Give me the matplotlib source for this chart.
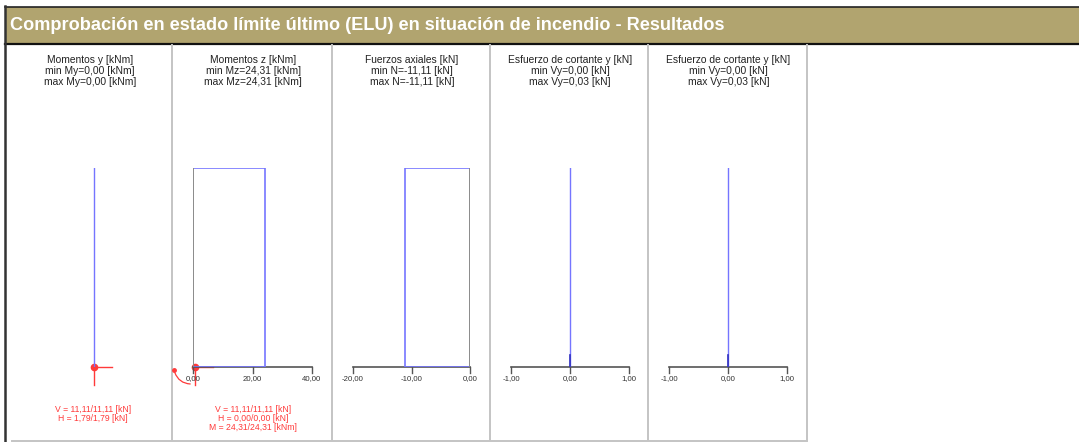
import numpy as np
import matplotlib.pyplot as plt
from matplotlib.patches import Rectangle, FancyArrowPatch

plt.rcParams['font.family'] = ['Liberation Sans', 'DejaVu Sans']

W, H = 1079, 442

# Posiciones a lo largo de la barra (0 = apoyo, 1 = extremo)
pos = [0.0, 1.0]

# Diagramas de esfuerzos
my = [0.0, 0.0]
mz = [24.31, 24.31]
n_ax = [-11.11, -11.11]
vy = [0.03, 0.0]
vz = [0.03, 0.0]

titulos = [
    ["Momentos y [kNm]", "min My=0,00 [kNm]", "max My=0,00 [kNm]"],
    ["Momentos z [kNm]", "min Mz=24,31 [kNm]", "max Mz=24,31 [kNm]"],
    ["Fuerzos axiales [kN]", "min N=-11,11 [kN]", "max N=-11,11 [kN]"],
    ["Esfuerzo de cortante y [kN]", "min Vy=0,00 [kN]", "max Vy=0,03 [kN]"],
    ["Esfuerzo de cortante y [kN]", "min Vy=0,00 [kN]", "max Vy=0,03 [kN]"],
]

ticks_mz = [0.0, 20.0, 40.0]
ticks_n = [-20.0, -10.0, 0.0]
ticks_v = [-1.0, 0.0, 1.0]

reacciones_1 = ["V = 11,11/11,11 [kN]", "H = 1,79/1,79 [kN]"]
reacciones_2 = ["V = 11,11/11,11 [kN]", "H = 0,00/0,00 [kN]", "M = 24,31/24,31 [kNm]"]

AZUL = '#7575ff'
ROJO = '#ff3a3a'
GRIS = '#555555'

fig = plt.figure(figsize=(W / 100, H / 100), dpi=100)

# capa de fondo en coordenadas de pixel
base = fig.add_axes([0, 0, 1, 1])
base.set_xlim(0, W)
base.set_ylim(H, 0)
base.axis('off')

# cabecera
base.add_patch(Rectangle((5, 7), W - 5, 37, facecolor='#b1a46f', edgecolor='none'))
base.plot([5, W], [6.5, 6.5], color='#222222', lw=1.2)
base.plot([5, W], [44, 44], color='#111111', lw=1.6)
base.plot([5, 5], [6, H], color='#333333', lw=1.8)
base.text(10, 25, "Comprobación en estado límite último (ELU) en situación de incendio - Resultados",
          color='white', fontsize=13.1, fontweight='bold', va='center', ha='left')

# marcos de los paneles
sep = [6, 172, 332, 490, 648, 807]
for x in sep[1:]:
    base.plot([x, x], [45, 440], color='#c4c4c4', lw=1.4)
base.plot([12, 807], [441, 441], color='#c4c4c4', lw=1.4)

for i, lineas in enumerate(titulos):
    cx = (sep[i] + sep[i + 1]) / 2 + 1
    for k, t in enumerate(lineas):
        base.text(cx, 60 + k * 11, t, fontsize=7.4, ha='center', va='center', color='#222222')

Y0, Y1 = 367, 168


def panel(x0, x1, xlim):
    ax = fig.add_axes([x0 / W, 1 - Y0 / H, (x1 - x0) / W, (Y0 - Y1) / H])
    ax.set_xlim(*xlim)
    ax.set_ylim(0, 1)
    ax.axis('off')
    ax.patch.set_alpha(0)
    return ax


def eje(ax, ticks):
    ax.plot([ticks[0], ticks[-1]], [0, 0], color=GRIS, lw=1.2, clip_on=False)
    for j, t in enumerate(ticks):
        ax.plot([t, t], [0, -0.03], color=GRIS, lw=1.0, clip_on=False)
        ax.text(t, -0.06, f"{t:.2f}".replace('.', ','), fontsize=5.6, ha='center', va='center',
                color='#333333')


# panel 1: momentos y
ax1 = panel(64, 124, (-1, 1))
ax1.plot(my, pos, color=AZUL, lw=1.0)

# panel 2: momentos z
ax2 = panel(193, 312, (0, 40))
eje(ax2, ticks_mz)
ax2.plot([0, mz[1], mz[0], 0], [1, 1, 0, 0], color=AZUL, lw=1.2)
ax2.plot([0, 0], [0, 1], color='#8a8a8a', lw=1.4)

# panel 3: axiles
ax3 = panel(353, 470, (-20, 0))
eje(ax3, ticks_n)
ax3.plot([0, n_ax[1], n_ax[0], 0], [1, 1, 0, 0], color=AZUL, lw=1.2)
ax3.plot([0, 0], [0, 1], color='#8a8a8a', lw=1.4)

# paneles 4 y 5: cortantes
for (x0, x1), v in [((511, 629), vy), ((669, 787), vz)]:
    ax = panel(x0, x1, (-1, 1))
    eje(ax, ticks_v)
    ax.plot([0, 0], [0, 1], color=AZUL, lw=1.0)
    ax.plot([0, 0], [0, max(v) * 2], color='#3030c0', lw=1.2)

# reacciones en los apoyos
for x in (94, 195):
    base.plot([x, x + 18], [Y0, Y0], color=ROJO, lw=1.0)
    base.plot([x, x], [Y0, Y0 + 18], color=ROJO, lw=1.0)
    base.plot(x, Y0, 'o', color=ROJO, ms=4.5)
arco = FancyArrowPatch((174, 370), (193, 384), connectionstyle='arc3,rad=0.4',
                       arrowstyle='-', color=ROJO, lw=0.9)
base.add_patch(arco)
base.plot(174, 370, 'o', color=ROJO, ms=2.5)

for k, t in enumerate(reacciones_1):
    base.text(93, 409 + k * 9.5, t, fontsize=6.2, ha='center', va='center', color=ROJO)
for k, t in enumerate(reacciones_2):
    base.text(253, 409 + k * 9.5, t, fontsize=6.2, ha='center', va='center', color=ROJO)

fig.savefig('out.png', dpi=100)
